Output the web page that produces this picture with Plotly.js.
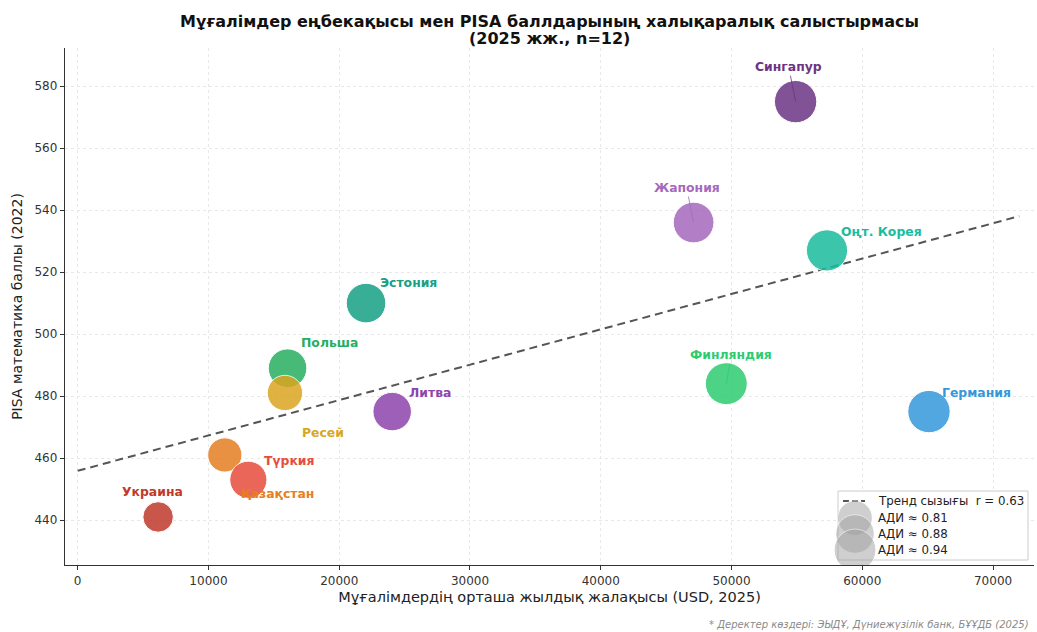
<!DOCTYPE html>
<html>
<head>
<meta charset="utf-8">
<script src="https://cdn.plot.ly/plotly-3.0.1.min.js"></script>
<style>
  html, body { margin: 0; padding: 0; background: #ffffff; }
  #chart { width: 1037px; height: 632px; }
</style>
</head>
<body>
<div id="chart"></div>
<script>
// ---- Data ----
const countries = ['Сингапур','Жапония','Оңт. Корея','Эстония','Польша','Ресей','Литва','Финляндия','Германия','Қазақстан','Түркия','Украина'];
const salaryUSD = [54900, 47100, 57300, 22050, 16050, 15850, 24050, 49600, 65100, 11250, 13050, 6150];
const pisaMath  = [575, 536, 527, 510, 489, 481, 475, 484, 475, 461, 453, 441];
const hdiValues = [0.949, 0.920, 0.929, 0.899, 0.881, 0.822, 0.879, 0.942, 0.950, 0.802, 0.855, 0.734];
const countryColors = ['#6c3483','#a569bd','#1abc9c','#16a085','#27ae60','#daa520','#8e44ad','#2ecc71','#3498db','#e67e22','#e74c3c','#c0392b'];
const legendHdi = [0.81, 0.88, 0.94];
const trendXExtent = [0, 72000];
const xTicks = [0, 10000, 20000, 30000, 40000, 50000, 60000, 70000];

// label offsets (px) from bubble centre, and whether a leader line is drawn
const labelDx = [-7, -7, 55, 42, 42, 38, 38, 5, 48, 53, 41, -6];
const labelDy = [-35, -35, -19, -21, -26, 40, -19, -29, -19, 39, -19, -25];
const labelArrow = [true, true, false, false, false, false, false, true, false, false, false, false];

// ---- helpers ----
function bubbleSize(h) { return 30.5 + (h - 0.734) * 55; }

// linear regression
const n = salaryUSD.length;
const mx = salaryUSD.reduce((a, b) => a + b, 0) / n;
const my = pisaMath.reduce((a, b) => a + b, 0) / n;
let sxy = 0, sxx = 0, syy = 0;
for (let i = 0; i < n; i++) {
  sxy += (salaryUSD[i] - mx) * (pisaMath[i] - my);
  sxx += (salaryUSD[i] - mx) ** 2;
  syy += (pisaMath[i] - my) ** 2;
}
const slope = sxy / sxx;
const intercept = my - slope * mx;
const rVal = sxy / Math.sqrt(sxx * syy);
const trendY = trendXExtent.map(x => intercept + slope * x);

const FONT = 'DejaVu Sans, Noto Sans, sans-serif';

// plot area in page pixels
const L = 65, R = 1034, T = 48, B = 565;
const XR = [-970, 73130], YR = [425.5, 592.3];
const px2x = p => XR[0] + (p - L) / (R - L) * (XR[1] - XR[0]);
const py2y = p => YR[0] + (B - p) / (B - T) * (YR[1] - YR[0]);

const traces = [];
traces.push({
  type: 'scatter', mode: 'lines',
  x: trendXExtent, y: trendY,
  line: { color: '#555555', width: 2, dash: '8px,5px' },
  hoverinfo: 'skip', showlegend: false
});
traces.push({
  type: 'scatter', mode: 'markers',
  x: salaryUSD, y: pisaMath, text: countries,
  marker: {
    size: hdiValues.map(bubbleSize),
    color: countryColors,
    opacity: 0.85,
    line: { color: '#ffffff', width: 1 }
  },
  showlegend: false
});

// custom legend drawn on an overlay pixel axis
const legRowY = [518, 534, 550];
traces.push({
  type: 'scatter', mode: 'lines', xaxis: 'x2', yaxis: 'y2',
  x: [843, 865], y: [501, 501],
  line: { color: '#555555', width: 2, dash: '6px,3px' },
  hoverinfo: 'skip', showlegend: false
});
traces.push({
  type: 'scatter', mode: 'markers', xaxis: 'x2', yaxis: 'y2',
  x: legRowY.map(() => 855), y: legRowY,
  marker: { size: legendHdi.map(bubbleSize), color: '#a0a0a0', opacity: 0.5, line: { color: '#ffffff', width: 1 } },
  hoverinfo: 'skip', showlegend: false
});

const annotations = [];
for (let i = 0; i < n; i++) {
  annotations.push({
    x: salaryUSD[i], y: pisaMath[i], xref: 'x', yref: 'y',
    text: '<b>' + countries[i] + '</b>',
    font: { family: FONT, size: 12.4, color: countryColors[i] },
    showarrow: true,
    ax: labelDx[i], ay: labelDy[i],
    arrowhead: 0, arrowwidth: labelArrow[i] ? 0.8 : 0.01,
    arrowcolor: labelArrow[i] ? countryColors[i] : 'rgba(0,0,0,0)',
    standoff: 0
  });
}
// legend texts
const legTexts = ['Тренд сызығы  r = ' + rVal.toFixed(2)].concat(legendHdi.map(h => 'АДИ ≈ ' + h.toFixed(2)));
const legYs = [501].concat(legRowY);
legTexts.forEach((t, k) => {
  annotations.push({
    xref: 'paper', yref: 'paper',
    x: (876 - L) / (R - L), y: (B - legYs[k]) / (B - T),
    xanchor: 'left', yanchor: 'middle',
    text: t, showarrow: false,
    font: { family: FONT, size: 11.8, color: '#222' }
  });
});
// second title line
annotations.push({
  xref: 'paper', yref: 'paper',
  x: 0.5, y: (B - 38) / (B - T),
  xanchor: 'center', yanchor: 'middle',
  text: '<b>(2025 жж., n=12)</b>', showarrow: false,
  font: { family: FONT, size: 16, color: '#111' }
});
// footnote
annotations.push({
  xref: 'paper', yref: 'paper',
  x: (1031 - L) / (R - L), y: (B - 624) / (B - T),
  xanchor: 'right', yanchor: 'middle',
  text: '<i>* Деректер көздері: ЭЫДҰ, Дүниежүзілік банк, БҰҰДБ (2025)</i>',
  showarrow: false,
  font: { family: FONT, size: 10, color: '#8a8a8a' }
});

const layout = {
  width: 1037, height: 632,
  margin: { l: L, r: 1037 - R, t: T, b: 632 - B, pad: 0 },
  paper_bgcolor: '#ffffff', plot_bgcolor: '#ffffff',
  showlegend: false,
  title: {
    text: '<b>Мұғалімдер еңбекақысы мен PISA баллдарының халықаралық салыстырмасы</b>',
    font: { family: FONT, size: 16, color: '#111' },
    xref: 'paper', x: 0.5, xanchor: 'center',
    yref: 'container', y: 1 - 21 / 632, yanchor: 'middle'
  },
  xaxis: {
    range: XR,
    tickvals: xTicks, ticktext: xTicks.map(String),
    showline: true, linecolor: '#333', linewidth: 1.2,
    ticks: 'outside', ticklen: 4, tickcolor: '#333', tickwidth: 1,
    tickfont: { family: FONT, size: 12, color: '#333' },
    showgrid: true, gridcolor: '#e8e8e8', griddash: '3px,3px', gridwidth: 1,
    zeroline: false,
    title: { text: 'Мұғалімдердің орташа жылдық жалақысы (USD, 2025)', font: { family: FONT, size: 14.5, color: '#222' }, standoff: 5 }
  },
  yaxis: {
    range: YR,
    tick0: 0, dtick: 20,
    showline: true, linecolor: '#333', linewidth: 1.2,
    ticks: 'outside', ticklen: 4, tickcolor: '#333', tickwidth: 1,
    tickfont: { family: FONT, size: 12, color: '#333' },
    showgrid: true, gridcolor: '#e8e8e8', griddash: '3px,3px', gridwidth: 1,
    zeroline: false,
    title: { text: 'PISA математика баллы (2022)', font: { family: FONT, size: 14, color: '#222' }, standoff: 8 }
  },
  xaxis2: { overlaying: 'x', range: [L, R], visible: false, fixedrange: true },
  yaxis2: { overlaying: 'y', range: [B, T], visible: false, fixedrange: true },
  shapes: [{
    type: 'rect', xref: 'x', yref: 'y', layer: 'between',
    x0: px2x(838), x1: px2x(1028), y0: py2y(491), y1: py2y(560),
    fillcolor: 'rgba(255,255,255,0.92)', line: { color: '#cccccc', width: 1 }
  }],
  annotations: annotations
};

Plotly.newPlot('chart', traces, layout, { displayModeBar: false, staticPlot: true });
</script>
</body>
</html>
